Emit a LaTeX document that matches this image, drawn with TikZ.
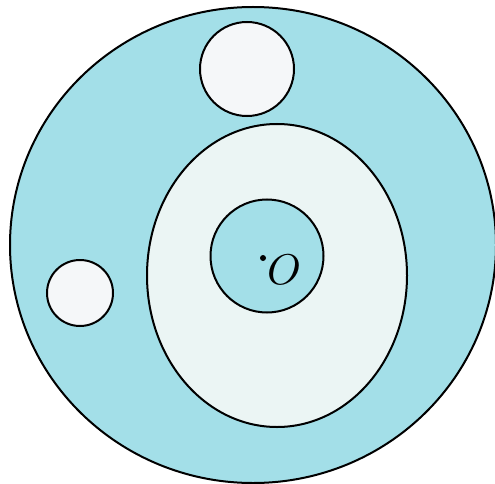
\documentclass[tikz,border=0pt]{standalone}
\begin{document}
\begin{tikzpicture}[x=1pt,y=-1pt,
  shape line/.style={draw=black,line width=2pt},
  outerfill/.style={shape line,fill=cyanfill},
  holefill/.style={shape line,fill=holewhite},
  ringfill/.style={shape line,fill=ringwhite}]
\definecolor{cyanfill}{HTML}{A3DFE8}
\definecolor{holewhite}{HTML}{F5F7F9}
\definecolor{ringwhite}{HTML}{EBF5F4}
\useasboundingbox (0,0) rectangle (495,484);
\begin{scope}
\clip (0,0) rectangle (495,484);
\path[outerfill] (253,245) ellipse [x radius=243, y radius=238];
\end{scope}
\path[holefill] (247,69) circle [radius=47];
\path[holefill] (80,293) circle [radius=33];
\path[ringfill] (277,275.5) ellipse [x radius=130, y radius=151.5];
\path[outerfill] (267,256) circle [radius=56.5];
\fill (263,258) circle [radius=3];
\node[inner sep=0pt,scale=4.3] (O) at (284,270) {\normalsize $O$};
\end{tikzpicture}
\end{document}
